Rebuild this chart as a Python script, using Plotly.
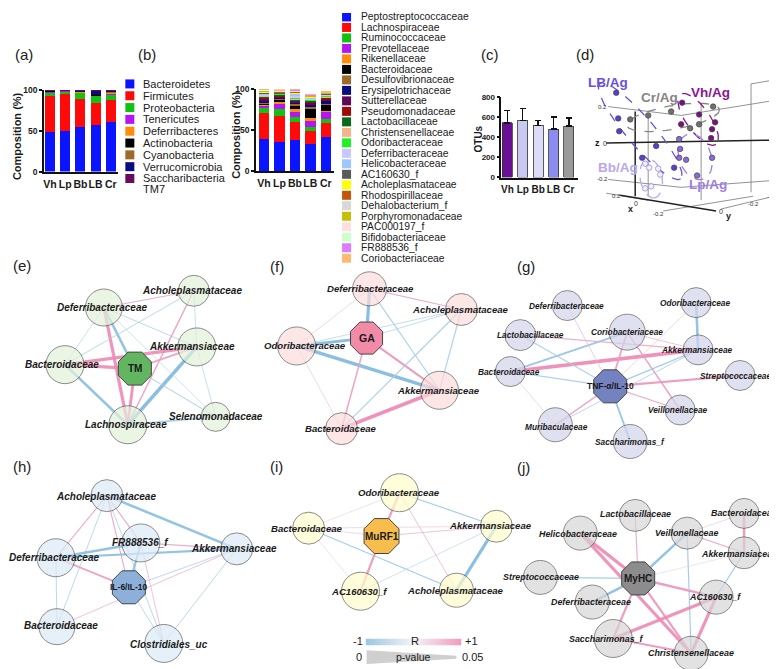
import numpy as np
import plotly.graph_objects as go

W, H = 777, 669
FONT = "Liberation Sans, Arial, sans-serif"
INK = "#1a1a1a"

groups = ["Vh", "Lp", "Bb", "LB", "Cr"]

# ---------------- (a) phylum composition (%) ----------------
phyla = ["Bacteroidetes", "Firmicutes", "Proteobacteria", "Tenericutes", "Deferribacteres",
         "Actinobacteria", "Cyanobacteria", "Verrucomicrobia", "Saccharibacteria TM7"]
phyla_colors = ["#0a14ff", "#ff0a0a", "#12c212", "#b515f0", "#ff8c0a",
                "#000000", "#9c6a2a", "#0b0b80", "#6a0a5a"]
phyla_Vh = [49, 43, 5, 1, 0.5, 0.5, 0.3, 0.5, 0.2]
phyla_Lp = [50, 45, 3, 1, 0.3, 0.3, 0.2, 0.1, 0.1]
phyla_Bb = [54, 35, 8, 0.5, 0.3, 0.2, 0.2, 1.6, 0.2]
phyla_LB = [57, 27, 9, 0.5, 0.3, 0.2, 0.2, 5.6, 0.2]
phyla_Cr = [61, 27, 7, 1, 0.5, 1, 0.3, 1.7, 0.5]

# ---------------- (b) family composition (%) ----------------
families = ["Peptostreptococcaceae", "Lachnospiraceae", "Ruminococcaceae", "Prevotellaceae",
            "Rikenellaceae", "Bacteroidaceae", "Desulfovibrionaceae", "Erysipelotrichaceae",
            "Sutterellaceae", "Pseudomonadaceae", "Lactobacillaceae", "Christensenellaceae",
            "Odoribacteraceae", "Deferribacteraceae", "Helicobacteraceae", "AC160630_f",
            "Acholeplasmataceae", "Rhodospirillaceae", "Dehalobacterium_f", "Porphyromonadaceae",
            "PAC000197_f", "Bifidobacteriaceae", "FR888536_f", "Coriobacteriaceae"]
family_colors = ["#0a14ff", "#ff0a0a", "#12c212", "#b515f0", "#ff8c0a", "#000000", "#9c6a2a",
                 "#0b0b80", "#5e0a52", "#a00a0a", "#0a6a1a", "#f2b488", "#22f022", "#c8c8ff",
                 "#9cc8ff", "#5a5a5a", "#ffff0a", "#c2560a", "#d8d8d8", "#c4c00a", "#ffdede",
                 "#ccffcc", "#dd7cff", "#ffb870"]
fam_Vh = [39, 31.5, 7, 2, 1.5, 1.5, 1.5, 2, 2, 1.5, 1, 1, 1, 1, 1, 1, 1, 0.5, 0.5, 0.5, 0.5, 0.5, 0.5, 0.5]
fam_Lp = [35, 32, 9, 5.5, 3.5, 2, 1.5, 1.5, 1, 1, 1, 0.5, 0.5, 0.5, 0.5, 0.5, 0.5, 0.4, 0.4, 0.4, 0.4, 0.4, 0.4, 0.4]
fam_Bb = [37.5, 23, 6, 6, 3.5, 4, 2, 2, 1.5, 1, 1, 1, 1, 2.5, 2, 1, 1, 0.5, 0.5, 0.5, 0.5, 0.5, 1, 0.5]
fam_LB = [33, 16, 5.5, 7, 4, 10.5, 2.5, 2.5, 2, 1.5, 1, 1, 1, 1, 1, 0.5, 0.5, 0.5, 0.3, 0.3, 0.3, 0.3, 0.5, 0.3]
fam_Cr = [41.5, 17.5, 5, 8.5, 1.5, 6.5, 2, 3, 2, 1.5, 1, 1, 1, 1, 0.5, 0.5, 0.5, 0.3, 0.3, 0.3, 0.3, 0.3, 0.3, 0.2]

# ---------------- (c) OTUs ----------------
otu_mean = [540, 565, 517, 480, 510]
otu_sd = [123, 120, 46, 120, 80]
otu_colors = ["#6a0f96", "#c9c9f2", "#dcdcf8", "#8c8cf0", "#9a9a9a"]

# ---------------- (d) PCoA projected scores ----------------
pc_LB_x = [608, 610, 611, 648, 634, 666]
pc_LB_y = [81, 107, 120, 135, 147, 157]
pc_Cr_x = [622, 640, 705, 691, 682, 663]
pc_Cr_y = [108, 104, 95, 113, 117, 100]
pc_Vh_x = [674, 691, 707, 704, 703, 673]
pc_Vh_y = [91, 103, 111, 118, 127, 113]
pc_Lp_x = [671, 672, 671, 678, 704, 689]
pc_Lp_y = [128, 138, 147, 149, 147, 165]
pc_Bb_x = [637, 641, 652, 643, 637, 650]
pc_Bb_y = [153, 157, 164, 176, 178, 158]

# ---------------- networks: edges (source, target, R, p) ----------------
edges_e = [("Def", "Ach", 0.5, 0.04), ("Def", "Akk", -0.4, 0.045), ("Def", "TM", -0.7, 0.02),
           ("Def", "Lac", 0.8, 0.01), ("Def", "Bac", -0.3, 0.046), ("Ach", "Bac", -0.4, 0.045),
           ("Ach", "Akk", -0.3, 0.046), ("Ach", "Lac", 0.6, 0.035), ("Bac", "Akk", 0.8, 0.01),
           ("Bac", "TM", 0.8, 0.01), ("Bac", "Lac", -0.7, 0.02), ("TM", "Lac", 0.8, 0.015),
           ("Akk", "Lac", -0.8, 0.006), ("Akk", "Sel", -0.3, 0.046), ("Lac", "Sel", -0.5, 0.035),
           ("TM", "Sel", -0.4, 0.042), ("TM", "Akk", 0.6, 0.03), ("Def", "Sel", -0.3, 0.047)]
edges_f = [("Def", "GA", -0.8, 0.01), ("Def", "Ach", 0.5, 0.04), ("Def", "Akk", -0.4, 0.04),
           ("Def", "Odo", 0.3, 0.048), ("Odo", "GA", -0.8, 0.015), ("Odo", "Akk", -0.8, 0.008),
           ("Odo", "Ach", -0.3, 0.045), ("Odo", "Bac", 0.3, 0.048), ("GA", "Akk", 0.7, 0.025),
           ("GA", "Bac", 0.6, 0.035), ("Ach", "Akk", -0.4, 0.04), ("Ach", "Bac", -0.4, 0.04),
           ("Bac", "Akk", 0.85, 0.005), ("GA", "Ach", -0.3, 0.045)]
edges_g = [("Bac", "Akk", 0.85, 0.005), ("Bac", "Cor", -0.6, 0.03), ("Bac", "TNF", -0.4, 0.04),
           ("Lac", "Akk", 0.5, 0.04), ("Lac", "TNF", -0.4, 0.04), ("Def", "TNF", 0.3, 0.045),
           ("Odo", "Akk", -0.7, 0.02), ("Odo", "TNF", 0.3, 0.048), ("Cor", "TNF", 0.6, 0.03),
           ("Cor", "Vei", 0.6, 0.035), ("Cor", "Akk", 0.4, 0.045), ("Akk", "TNF", -0.5, 0.04),
           ("Akk", "Mur", -0.4, 0.045), ("Str", "TNF", 0.7, 0.025), ("TNF", "Vei", 0.5, 0.04),
           ("TNF", "Mur", 0.6, 0.035), ("TNF", "Sac", -0.6, 0.03), ("Bac", "Mur", 0.3, 0.048)]
edges_h = [("Ach", "Akk", -0.7, 0.02), ("Ach", "Def", 0.5, 0.04), ("Ach", "FR", 0.5, 0.04),
           ("Ach", "IL", 0.5, 0.04), ("Ach", "Bac", -0.4, 0.045), ("Ach", "Clo", -0.4, 0.045),
           ("FR", "Akk", 0.5, 0.04), ("FR", "Def", -0.7, 0.02), ("FR", "IL", -0.7, 0.025),
           ("Akk", "Def", -0.7, 0.025), ("Akk", "IL", -0.4, 0.045), ("Akk", "Bac", 0.4, 0.045),
           ("Akk", "Clo", -0.4, 0.045), ("Def", "IL", 0.6, 0.03), ("Def", "Bac", -0.4, 0.045),
           ("IL", "Clo", -0.4, 0.045), ("FR", "Clo", 0.4, 0.045)]
edges_i = [("Odo", "Mu", 0.7, 0.025), ("Odo", "Akk", -0.5, 0.04), ("Odo", "Bac", 0.2, 0.049),
           ("Odo", "Ach", 0.4, 0.045), ("Bac", "Mu", 0.3, 0.048), ("Bac", "Ach", -0.5, 0.04),
           ("Bac", "AC", 0.2, 0.049), ("Mu", "Akk", 0.4, 0.045), ("Mu", "AC", 0.7, 0.025),
           ("Akk", "Ach", -0.8, 0.01), ("Akk", "AC", -0.3, 0.047), ("Bac", "Akk", 0.3, 0.048)]
edges_j = [("Lac", "My", 0.5, 0.04), ("Hel", "My", 0.8, 0.01), ("Hel", "Chr", 0.8, 0.012),
           ("Vei", "My", -0.7, 0.02), ("Vei", "Akk", 0.5, 0.04), ("Vei", "Chr", -0.5, 0.04),
           ("Bac", "Akk", 0.7, 0.02), ("Bac", "Vei", 0.3, 0.048), ("Akk", "My", 0.2, 0.049),
           ("Akk", "AC", -0.5, 0.04), ("Str", "My", -0.5, 0.04), ("Def", "My", -0.7, 0.02),
           ("My", "AC", 0.7, 0.02), ("My", "Sac", 0.7, 0.025), ("My", "Chr", 0.7, 0.025),
           ("AC", "Sac", 0.8, 0.01), ("AC", "Chr", 0.8, 0.01), ("Sac", "Chr", 0.7, 0.025)]

# node layout: key -> (label, x, y, radius, label_x, label_y)
nodes_e = {"Ach": ("Acholeplasmataceae", 185, 282, 15.5, 183, 282),
           "Def": ("Deferribacteraceae", 95, 299, 18.5, 93, 299),
           "Akk": ("Akkermansiaceae", 188, 339, 19, 183, 339),
           "Bac": ("Bacteroidaceae", 56, 357, 19, 53, 357),
           "Lac": ("Lachnospiraceae", 119, 418, 19, 117, 418),
           "Sel": ("Selenomonadaceae", 207, 410, 14.5, 207, 410)}
center_e = ("TM", "TM", 126, 361, 17)
nodes_f = {"Def": ("Deferribacteraceae", 361, 280, 17, 362, 280),
           "Ach": ("Acholeplasmataceae", 453, 301, 16, 452, 301),
           "Odo": ("Odoribacteraceae", 288, 338, 19, 296, 338),
           "Akk": ("Akkermansiaceae", 431, 383, 19, 430, 383),
           "Bac": ("Bacteroidaceae", 333, 422, 16, 332, 422)}
center_f = ("GA", "GA", 358, 330, 16.5)
nodes_g = {"Def": ("Deferribacteraceae", 559, 297, 15, 558, 297),
           "Odo": ("Odoribacteraceae", 688, 294, 15, 687, 294),
           "Lac": ("Lactobacillaceae", 512, 327, 15.5, 522, 327),
           "Bac": ("Bacteroidaceae", 502, 364, 15, 501, 364),
           "Cor": ("Coriobacteriaceae", 619, 324, 18, 619, 324),
           "Akk": ("Akkermansiaceae", 690, 342, 15, 689, 342),
           "Str": ("Streptococcaceae", 732, 368, 15, 727, 369),
           "Vei": ("Veillonellaceae", 672, 403, 15, 670, 403),
           "Mur": ("Muribaculaceae", 547, 418, 17, 548, 420),
           "Sac": ("Saccharimonas_f", 622, 435, 17, 622, 435)}
center_g = ("TNF", "TNF-α/IL-10", 602, 379, 17)
nodes_h = {"Ach": ("Acholeplasmataceae", 98, 490, 16, 97, 491),
           "FR": ("FR888536_f", 132, 538, 19, 132, 538),
           "Akk": ("Akkermansiaceae", 228, 544, 16, 225, 544),
           "Def": ("Deferribacteraceae", 47, 553, 19, 45, 553),
           "Bac": ("Bacteroidaceae", 48, 623, 18, 52, 622),
           "Clo": ("Clostridiales_uc", 155, 640, 19, 160, 641)}
center_h = ("IL", "IL-6/IL-10", 120, 583, 17)
nodes_i = {"Odo": ("Odoribacteraceae", 391, 487, 19, 390, 487),
           "Bac": ("Bacteroidaceae", 300, 523, 16, 298, 523),
           "Akk": ("Akkermansiaceae", 488, 521, 16, 482, 520),
           "AC": ("AC160630_f", 352, 587, 19, 350, 587),
           "Ach": ("Acholeplasmataceae", 448, 586, 17, 447, 586)}
center_i = ("Mu", "MuRF1", 373, 531, 18)
nodes_j = {"Lac": ("Lactobacillaceae", 627, 510, 16, 627, 509),
           "Bac": ("Bacteroidaceae", 736, 508, 15, 736, 508),
           "Hel": ("Helicobacteraceae", 572, 528, 17, 570, 529),
           "Vei": ("Veillonellaceae", 679, 528, 16, 678, 528),
           "Akk": ("Akkermansiaceae", 736, 548, 16, 731, 549),
           "Str": ("Streptococcaceae", 532, 573, 17, 533, 573),
           "Def": ("Deferribacteraceae", 584, 598, 17, 583, 598),
           "AC": ("AC160630_f", 708, 593, 17, 707, 593),
           "Sac": ("Saccharimonas_f", 605, 635, 19, 598, 636),
           "Chr": ("Christensenellaceae", 683, 650, 17, 683, 650)}
center_j = ("My", "MyHC", 630, 574, 17)

fig = go.Figure()
OV = dict(xaxis="x4", yaxis="y4", hoverinfo="skip", showlegend=False)
ann = []


def text(x, y, s, size=11, color=INK, xanchor="center", angle=0, ref="x4"):
    ann.append(dict(x=x, y=y, xref=ref, yref=ref.replace("x", "y"), text=s, showarrow=False,
                    xanchor=xanchor, yanchor="middle", textangle=angle,
                    font=dict(family=FONT, size=size, color=color)))


# ---------- (a) bars ----------
phyla_by_group = [phyla_Vh, phyla_Lp, phyla_Bb, phyla_LB, phyla_Cr]
for k, name in enumerate(phyla):
    fig.add_trace(go.Bar(x=groups, y=[g[k] for g in phyla_by_group], marker=dict(color=phyla_colors[k], line_width=0),
                         width=0.66, xaxis="x", yaxis="y", showlegend=False, hoverinfo="skip"))
# ---------- (b) bars ----------
fam_by_group = [fam_Vh, fam_Lp, fam_Bb, fam_LB, fam_Cr]
for k, name in enumerate(families):
    fig.add_trace(go.Bar(x=groups, y=[g[k] for g in fam_by_group], marker=dict(color=family_colors[k], line_width=0),
                         width=0.68, xaxis="x2", yaxis="y2", showlegend=False, hoverinfo="skip"))
# ---------- (c) bars ----------
fig.add_trace(go.Bar(x=groups, y=otu_mean, width=0.65, xaxis="x3", yaxis="y3", showlegend=False, hoverinfo="skip",
                     marker=dict(color=otu_colors, line=dict(color="#333", width=0.8)),
                     error_y=dict(type="data", symmetric=False, array=otu_sd, arrayminus=[0] * 5,
                                  color="#111", thickness=1.5, width=3)))

# ---------- legends (a) and (b) ----------
for i, name in enumerate(phyla):
    y = 72 + 12 * i
    fig.add_trace(go.Scatter(x=[121], y=[y], mode="markers", marker=dict(symbol="square", size=9, color=phyla_colors[i]), **OV))
    if name == "Saccharibacteria TM7":
        text(132, y, "Saccharibacteria", 11, xanchor="left")
        text(132, y + 11, "TM7", 11, xanchor="left")
    else:
        text(132, y, name, 11, xanchor="left")
for i, name in enumerate(families):
    y = 4 + 10.65 * i
    fig.add_trace(go.Scatter(x=[338], y=[y], mode="markers", marker=dict(symbol="square", size=9, color=family_colors[i]), **OV))
    text(350, y, name, 10.3, xanchor="left")

# axis titles
text(8, 125, "<b>Composition (%)</b>", 11, angle=-90)
text(227, 124, "<b>Composition (%)</b>", 11, angle=-90)
text(470, 128, "<b>OTUs</b>", 10, angle=-90)

# ---------- (d) PCoA 3D projection ----------
grid_thin = [((600, 95), (673, 104)), ((673, 104), (765, 89)), ((600, 169), (673, 177)),
             ((673, 177), (765, 170)), ((693, 92), (693, 190)), ((743, 72), (743, 182)),
             ((743, 72), (766, 68)), ((655, 201), (745, 186)), ((713, 199), (766, 186)),
             ((598, 183), (640, 190)), ((640, 104), (640, 186))]
grid_bold = [((598, 132), (765, 129)), ((627, 100), (627, 186)), ((612, 185), (708, 201))]
for (p0, p1) in grid_thin:
    fig.add_trace(go.Scatter(x=[p0[0], p1[0]], y=[p0[1], p1[1]], mode="lines", line=dict(color="#777", width=0.8), **OV))
for (p0, p1) in grid_bold:
    fig.add_trace(go.Scatter(x=[p0[0], p1[0]], y=[p0[1], p1[1]], mode="lines", line=dict(color="#222", width=1.5), **OV))


def ellipse(cx, cy, a, b, ang):
    t = np.linspace(0, 2 * np.pi, 90)
    c, s = np.cos(np.radians(ang)), np.sin(np.radians(ang))
    ex, ey = a * np.cos(t), b * np.sin(t)
    return cx + ex * c - ey * s, cy + ex * s + ey * c


pc_groups = [("LB/Ag", pc_LB_x, pc_LB_y, "#6a4fe0", "#5a3fd0", (632, 120, 63, 14, 50), (600, 71)),
             ("Cr/Ag", pc_Cr_x, pc_Cr_y, "#858585", "#707070", (665, 106, 47, 12, -10), (651, 86)),
             ("Vh/Ag", pc_Vh_x, pc_Vh_y, "#8a1590", "#7a107f", (690, 108, 31, 12, 55), (702, 81)),
             ("Lp/Ag", pc_Lp_x, pc_Lp_y, "#9d7ee6", "#8b6adc", (687, 146, 24, 16, 70), (700, 174)),
             ("Bb/Ag", pc_Bb_x, pc_Bb_y, "#b9a9ea", "#f4f0ff", (643, 168, 20, 11, 80), (610, 157))]
for name, xs, ys, col, fill, el, lab in pc_groups:
    ex, ey = ellipse(*el)
    fig.add_trace(go.Scatter(x=ex, y=ey, mode="lines", line=dict(color=col, width=1.3, dash="dash"), **OV))
    fig.add_trace(go.Scatter(x=xs, y=ys, mode="markers",
                             marker=dict(size=5.5, color=fill, line=dict(color="#444" if name != "Bb/Ag" else "#8c7cd0", width=0.7)), **OV))
    text(lab[0], lab[1], "<b>%s</b>" % name, 13.5, color=col)
for x, y, s, sz in [(594, 95, "0.2", 6), (594, 169, "-0.2", 6), (608, 186, "0.2", 6), (628, 193, "0", 7),
                    (650, 204, "-0.2", 6), (713, 202, "0", 7), (745, 194, "-0.2", 6), (764, 187, "-0.4", 6),
                    (597, 132, "0", 7)]:
    text(x, y, s, sz, color="#333")
text(589, 132, "<b>z</b>", 9)
text(622, 199, "<b>x</b>", 9)
text(720, 206, "<b>y</b>", 9)


# ---------- networks ----------
def mix(c0, c1, t):
    return "rgb(%d,%d,%d)" % tuple(int(round(a + (b - a) * t)) for a, b in zip(c0, c1))


def draw_network(nodes, center, edges, fill, cfill, lsize, csize):
    pos = {k: (v[1], v[2]) for k, v in nodes.items()}
    pos[center[0]] = (center[2], center[3])
    for a, b, R, p in edges:
        t = min(1.0, abs(R)) ** 0.8
        tgt = (240, 120, 168) if R > 0 else (106, 176, 222)
        col = mix((226, 232, 240), tgt, t)
        w = 0.5 + 3.4 * (1 - p / 0.05)
        fig.add_trace(go.Scatter(x=[pos[a][0], pos[b][0]], y=[pos[a][1], pos[b][1]], mode="lines",
                                 line=dict(color=col, width=w), opacity=0.9, **OV))
    keys = list(nodes)
    fig.add_trace(go.Scatter(x=[nodes[k][1] for k in keys], y=[nodes[k][2] for k in keys], mode="markers",
                             marker=dict(size=[2 * nodes[k][3] for k in keys], color=fill,
                                         line=dict(color="#4a4a4a", width=0.9)), **OV))
    fig.add_trace(go.Scatter(x=[center[2]], y=[center[3]], mode="markers",
                             marker=dict(symbol="octagon", size=2.1 * center[4], color=cfill,
                                         line=dict(color="#444", width=1)), **OV))
    for k in keys:
        text(nodes[k][4], nodes[k][5], "<b><i>%s</i></b>" % nodes[k][0], lsize)
    text(center[2], center[3], "<b>%s</b>" % center[1], csize)


draw_network(nodes_e, center_e, edges_e, "#e3f1da", "#62b662", 10, 10)
draw_network(nodes_f, center_f, edges_f, "#fbdcdc", "#f28ba8", 9.6, 10.5)
draw_network(nodes_g, center_g, edges_g, "#d4d5ea", "#7582c0", 8.3, 8.5)
draw_network(nodes_h, center_h, edges_h, "#dceaf6", "#8db0da", 10, 8.5)
draw_network(nodes_i, center_i, edges_i, "#fffdcb", "#f7be4e", 9.6, 10)
draw_network(nodes_j, center_j, edges_j, "#d6d6d6", "#8c8c8c", 8.9, 10)

# ---------- R / p-value legend ----------
r_scale = np.linspace(-1, 1, 60)
fig.add_trace(go.Heatmap(z=[r_scale], xaxis="x5", yaxis="y5", showscale=False, hoverinfo="skip",
                         colorscale=[[0, "#9dc6e2"], [0.5, "#f3f4f7"], [1, "#f49ac1"]]))
fig.add_trace(go.Scatter(x=[358, 448, 448, 358, 358], y=[647, 652.5, 655.5, 661, 647], mode="lines",
                         fill="toself", fillcolor="#cfcfcf", line=dict(width=0), **OV))
text(349, 638, "-1", 11)
text(407, 638, "R", 11)
text(463, 638, "+1", 11)
text(350, 654, "0", 11)
text(405, 654, "p-value", 10.5)
text(464, 654, "0.05", 11)

# ---------- panel labels ----------
for x, y, s in [(15, 42, "(a)"), (138, 42, "(b)"), (482, 42, "(c)"), (577, 42, "(d)"), (13, 256, "(e)"),
                (268, 257, "(f)"), (518, 257, "(g)"), (13, 460, "(h)"), (268, 460, "(i)"), (515, 461, "(j)")]:
    text(x, y, s, 15, color="#222")

axis_line = dict(showline=True, linecolor="#111", linewidth=1.5, showgrid=False, zeroline=False, fixedrange=True)
xt = dict(tickfont=dict(family=FONT, size=10.5, color=INK, weight="bold"), ticks="", type="category",
          tickangle=0, ticklabelstandoff=2)
yt = dict(ticks="outside", ticklen=3, tickwidth=1.5, tickcolor="#111",
          tickfont=dict(family=FONT, size=8.5, color=INK, weight="bold"))
ya, yb = 1 - 161 / H, 1 - 78 / H
fig.update_layout(
    width=W, height=H, margin=dict(l=0, r=0, t=0, b=0), paper_bgcolor="white", plot_bgcolor="rgba(0,0,0,0)",
    barmode="stack", showlegend=False, font=dict(family=FONT, color=INK),
    xaxis=dict(domain=[35 / W, 109.6 / W], range=[-0.394, 4.5], anchor="y", **axis_line, **xt),
    yaxis=dict(domain=[ya, yb], range=[0, 100], tickvals=[0, 50, 100], anchor="x", **axis_line, **yt),
    xaxis2=dict(domain=[247.3 / W, 325 / W], range=[-0.514, 4.5], anchor="y2", **axis_line, **xt),
    yaxis2=dict(domain=[1 - 160.5 / H, 1 - 77.5 / H], range=[0, 100], tickvals=[0, 50, 100], anchor="x2", **axis_line, **yt),
    xaxis3=dict(domain=[493 / W, 570 / W], range=[-0.39, 4.61], anchor="y3", **axis_line,
                tickfont=dict(family=FONT, size=10, color=INK, weight="bold"), ticks="", type="category",
                tickangle=0, ticklabelstandoff=2),
    yaxis3=dict(domain=[1 - 167 / H, 1 - 85 / H], range=[0, 800], tickvals=[0, 200, 400, 600, 800], anchor="x3",
                **axis_line, **dict(yt, tickfont=dict(family=FONT, size=8, color=INK, weight="bold"))),
    xaxis4=dict(domain=[0, 1], range=[0, W], visible=False, fixedrange=True, anchor="y4"),
    yaxis4=dict(domain=[0, 1], range=[H, 0], visible=False, fixedrange=True, anchor="x4"),
    xaxis5=dict(domain=[357 / W, 453 / W], range=[-0.5, 59.5], visible=False, fixedrange=True, anchor="y5"),
    yaxis5=dict(domain=[1 - 642 / H, 1 - 635 / H], range=[-0.5, 0.5], visible=False, fixedrange=True, anchor="x5"),
    annotations=ann,
)
fig.write_html("out.html")
